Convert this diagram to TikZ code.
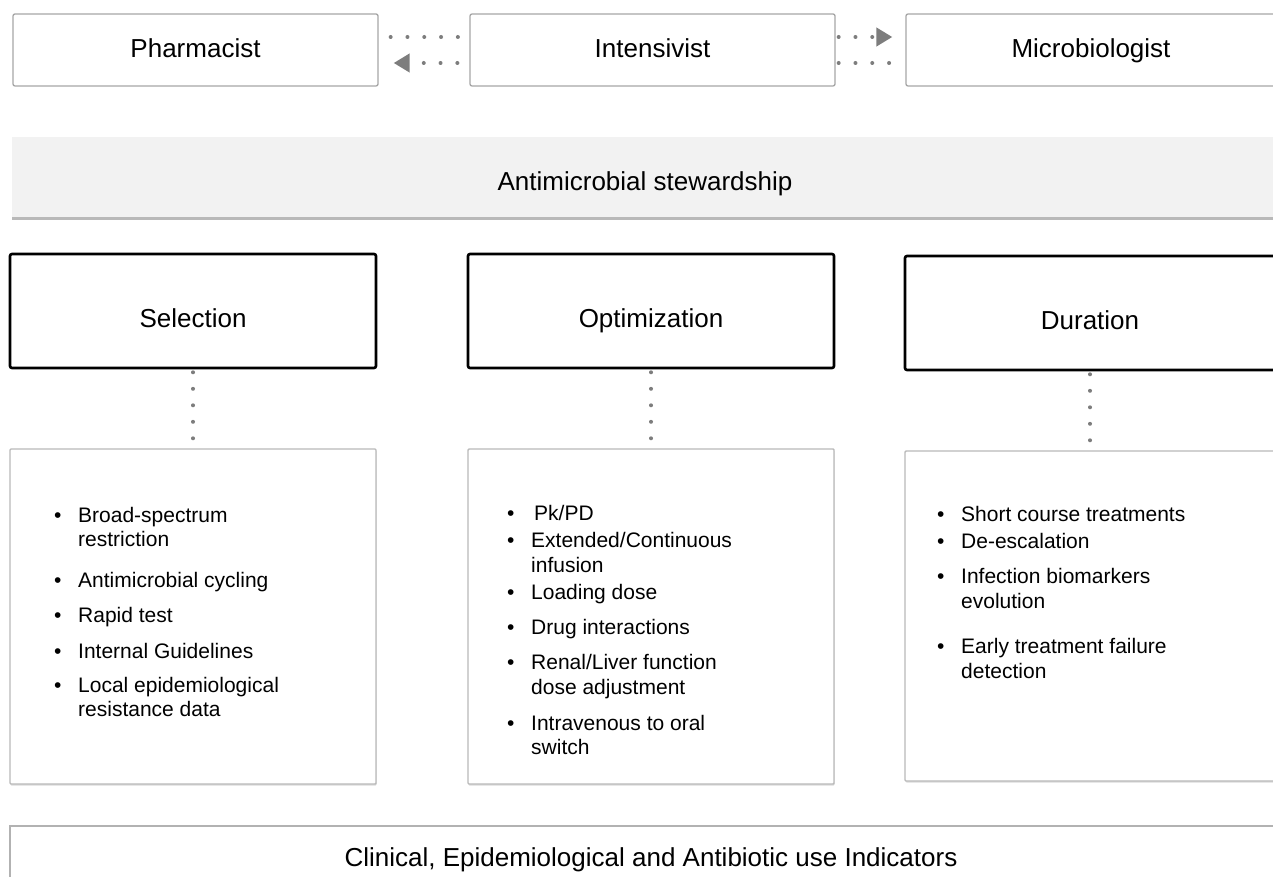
\documentclass[tikz,border=0pt]{standalone}
\usepackage{fontspec}
\setmainfont{Liberation Sans}
\usetikzlibrary{arrows.meta,shadows}
\definecolor{dotc}{RGB}{125,125,125}
\definecolor{barfill}{RGB}{242,242,242}
\newcommand\Bu{\makebox[24pt][l]{\textbullet}}
\newcommand\Co{\hspace*{24pt}}
\tikzset{
  titlefont/.style={font=\fontsize{26}{31}\selectfont},
  topbox/.style={titlefont, draw=gray!70, line width=1.3pt, rounded corners=2pt, inner sep=0pt, text height=18pt, text depth=2pt, minimum width=365pt, minimum height=72pt},
  catbox/.style={titlefont, draw=black, line width=2.6pt, rounded corners=2pt, inner sep=0pt, text height=32pt, text depth=0pt, minimum height=114pt},
  listbox/.style={draw=gray!55, fill=white, line width=1.4pt, rounded corners=1pt, minimum height=335pt,
     drop shadow={shadow xshift=0.5pt, shadow yshift=-1.5pt, fill=gray!40, opacity=0.7}},
  listtext/.style={inner sep=0pt, anchor=base west, font=\fontsize{21}{24}\selectfont},
  dotline/.style={draw=dotc, line width=4pt, line cap=round, dash pattern=on 0pt off 16.8pt},
  vdot/.style={draw=dotc, line width=4pt, line cap=round, dash pattern=on 0pt off 16.5pt},
  tip/.style={-{Triangle[length=16pt,width=18pt]}},
}
\begin{document}
\begin{tikzpicture}[x=1pt,y=-1pt]
\useasboundingbox (0,0) rectangle (1273,877);
\clip (0,0) rectangle (1273,877);
\fill[white] (0,0) rectangle (1273,877);

% top row
\node[topbox] (ph) at (195.5,50) {Pharmacist};
\node[topbox] (in) at (652.5,50) {Intensivist};
\node[topbox, minimum width=370pt] (mi) at (1091,50) {Microbiologist};

\draw[dotline, shorten <=12pt, shorten >=11.5pt] ([yshift=13pt]ph.east) -- ([yshift=13pt]in.west);
\draw[dotline, tip, shorten <=12pt, shorten >=15pt] ([yshift=-13pt]in.west) -- ([yshift=-13pt]ph.east);
\draw[dotline, tip, shorten <=3pt, shorten >=13pt] ([yshift=13pt]in.east) -- ([yshift=13pt]mi.west);
\draw[dotline, shorten <=3pt, shorten >=0pt] ([yshift=-13pt]in.east) -- ([yshift=-13pt]mi.west);

% stewardship bar
\node[titlefont, fill=barfill, inner sep=0pt, minimum width=1266pt, minimum height=80pt,
      text height=28pt, text depth=0pt,
      drop shadow={shadow xshift=0pt, shadow yshift=-3pt, fill=gray!55, opacity=1}]
      (st) at (645,177) {Antimicrobial stewardship};

% category boxes
\node[catbox, minimum width=366pt] (sel) at (193,311) {Selection};
\node[catbox, minimum width=366pt] (opt) at (651,311) {Optimization};
\node[catbox, minimum width=370pt] (dur) at (1090,313) {Duration};

% list boxes
\node[listbox, minimum width=366pt] (selL) at (193,616.5) {};
\node[listbox, minimum width=366pt] (optL) at (651,616.5) {};
\node[listbox, minimum width=370pt, minimum height=330pt] (durL) at (1090,616) {};

\draw[vdot, shorten <=3pt] (sel.south) -- (selL.north);
\draw[vdot, shorten <=3pt] (opt.south) -- (optL.north);
\draw[vdot, shorten <=3pt] (dur.south) -- (durL.north);

% list texts
\node[listtext] (selT) at (54,522) {\begin{minipage}[t]{310pt}
\Bu Broad-spectrum\\
\Co restriction\\[17pt]
\Bu Antimicrobial cycling\\[11pt]
\Bu Rapid test\\[12pt]
\Bu Internal Guidelines\\[10pt]
\Bu Local epidemiological\\
\Co resistance data
\end{minipage}};

\node[listtext] (optT) at (507,520) {\begin{minipage}[t]{310pt}
\Bu \hspace{3pt}Pk/PD\\[3pt]
\Bu Extended/Continuous\\[1pt]
\Co infusion\\[3pt]
\Bu Loading dose\\[11pt]
\Bu Drug interactions\\[11pt]
\Bu Renal/Liver function\\[1pt]
\Co dose adjustment\\[12pt]
\Bu Intravenous to oral\\
\Co switch
\end{minipage}};

\node[listtext] (durT) at (937,521) {\begin{minipage}[t]{320pt}
\Bu Short course treatments\\[3pt]
\Bu De-escalation\\[11pt]
\Bu Infection biomarkers\\[1pt]
\Co evolution\\[21pt]
\Bu Early treatment failure\\[1pt]
\Co detection
\end{minipage}};

% bottom bar
\node[titlefont, draw=gray!60, line width=1.4pt, inner sep=0pt, minimum width=1282pt, minimum height=62pt,
      text height=18pt, text depth=0pt] (ind) at (651,857) {Clinical, Epidemiological and Antibiotic use Indicators};
\end{tikzpicture}
\end{document}
